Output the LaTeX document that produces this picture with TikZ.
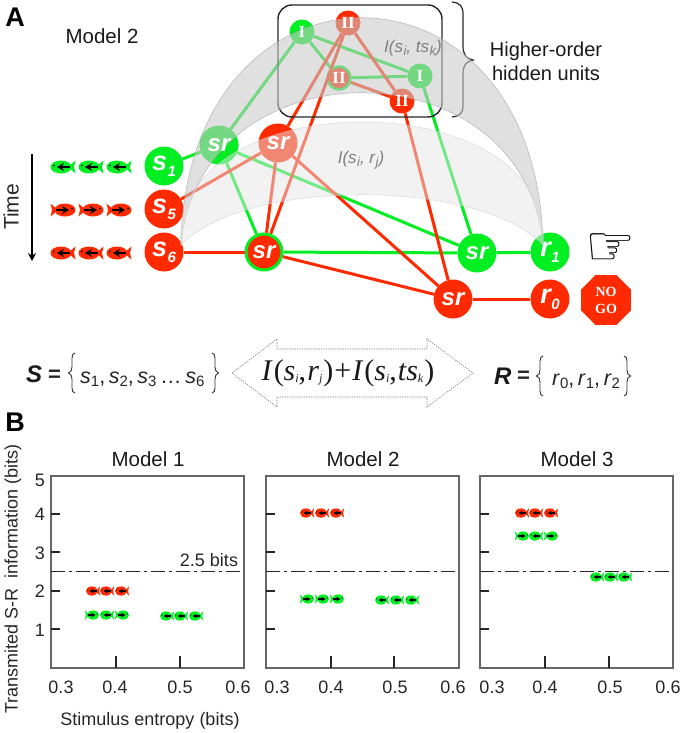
\documentclass[tikz,border=0pt]{standalone}
\usepackage{fontspec}
\setmainfont{Liberation Sans}
\newfontfamily\serifface{Liberation Serif}
\newfontfamily\symface{DejaVu Sans}
\usetikzlibrary{arrows.meta,shapes.geometric}
\definecolor{gr}{HTML}{00EE22}
\definecolor{rd}{HTML}{FF2A00}
\newcommand{\fsz}[1]{\fontsize{#1}{#1}\selectfont}
\newcommand{\bigsub}[2]{\textbf{\textit{\fsz{27}#1\kern0.5pt\raisebox{-6pt}{\fsz{15}#2}}}}
\newcommand{\smsub}[2]{#1\kern0.5pt\raisebox{-3.5pt}{\fsz{13}#2}}
\newcommand{\setsub}[2]{\textit{#1}\raisebox{-3pt}{\fsz{15}#2}}
\newcommand{\eqsub}[2]{\textit{#1}\raisebox{-2pt}{\fsz{12}\textit{#2}}}
\newcommand{\fishmark}[5]{%
 \begin{scope}[shift={(#1,#2)},xscale=#4*#5,yscale=#5*(1.6-0.6*#5)]
  \fill[#3] (-2,0) ellipse [x radius=10.5,y radius=6.5];
  \fill[#3] (5,0) -- (12.5,-6.5) -- (11,0) -- (12.5,6.5) -- cycle;
  \fill[black] (-9.2,-1.5) circle [radius=1];
  \draw[black,line width=#5*2.4pt,-{Stealth[length=#5*7pt,width=#5*8pt]}] (7,0) -- (-6,0);
 \end{scope}}
\tikzset{
 unit/.style={circle,inner sep=0pt,minimum size=39pt,text=white,font=\bfseries\itshape\fsz{24}},
 hid/.style={circle,inner sep=0pt,minimum size=25pt},
 hidlab/.style={text=white,inner sep=0pt,font=\serifface\bfseries\fsz{17}},
 gline/.style={gr,line width=3pt},
 rline/.style={rd,line width=3pt},
 axlab/.style={font=\fsz{18},text=black!85,inner sep=0pt},
 title/.style={font=\fsz{20.5},text=black!90,inner sep=0pt},
 frameln/.style={draw=black!60,line width=1.2pt},
 tickln/.style={draw=black!85,line width=1.2pt},
 bitln/.style={black!85,line width=1.5pt,dash pattern=on 14pt off 4pt on 3pt off 4pt},
 grayinfo/.style={text=black!50,font=\itshape\fsz{17},inner sep=0pt},
 eqtxt/.style={inner sep=0pt,font=\fsz{21.5},text=black!85},
}
\begin{document}
\begin{tikzpicture}[x=1pt,y=-1pt]
\useasboundingbox (0,0) rectangle (685,733);
% panel letters and captions
\node[font=\bfseries\fsz{27},inner sep=0pt] (letA) at (15,17) {A};
\node[font=\bfseries\fsz{27},inner sep=0pt] (letB) at (15,422) {B};
\node[title] (m2top) at (102,36) {Model 2};
\node[font=\fsz{21},rotate=90,inner sep=0pt,text=black!85] (time) at (11,207) {Time};
\coordinate (ta) at (32,154); \coordinate (tb) at (32,261);
\draw[line width=1.3pt,-{Stealth[length=8pt,width=8pt]}] (ta) -- (tb);
% fish
\foreach \x in {63,91,119}{\fishmark{\x}{167}{gr}{1}{1}\fishmark{\x}{253}{rd}{1}{1}}
\foreach \x in {63,91,119}{\fishmark{\x}{210}{rd}{-1}{1}}
% nodes
\node[unit,fill=gr] (s1) at (164,166) {\bigsub{s}{1}};
\node[unit,fill=rd] (s5) at (164,209) {\bigsub{s}{5}};
\node[unit,fill=rd] (s6) at (164,252) {\bigsub{s}{6}};
\node[unit,fill=gr] (srA) at (219,145) {};
\node[unit,fill=rd] (srB) at (278,143) {};
\node[unit,fill=rd,draw=gr,line width=3pt,minimum size=36pt] (srC) at (264,252) {sr};
\node[unit,fill=gr] (srD) at (477,253) {sr};
\node[unit,fill=rd] (srE) at (453,299) {sr};
\node[unit,fill=gr] (r1) at (550,252) {\bigsub{r}{1}};
\node[unit,fill=rd] (r0) at (550,299) {\bigsub{r}{0}};
\node[hid,fill=gr] (hA) at (302,32) {};
\node[hid,fill=rd] (hB) at (348,23) {};
\node[hid,fill=rd,draw=gr,line width=2.5pt,minimum size=23pt] (hC) at (339,78) {};
\node[hid,fill=gr] (hD) at (420,76) {};
\node[hid,fill=rd] (hE) at (402,101) {};
% connectors
\draw[gline] (s1) -- (srA);
\draw[gline] (srA) -- (srC);
\draw[gline] (srA) -- (srD);
\draw[gline] (hA) -- (srA);
\draw[gline] (hA) -- (hC);
\draw[gline] (hA) -- (hD);
\draw[gline] (hC) -- (hD);
\draw[gline] (hD) -- (srD);
\draw[gline] (srC) -- (srD);
\draw[gline] (srD) -- (r1);
\draw[rline] (s5) -- (srB);
\draw[rline] (s6) -- (srC);
\draw[rline] (srB) -- (srC);
\draw[rline] (srB) -- (srE);
\draw[rline] (hB) -- (srB);
\draw[rline] (hB) -- (srC);
\draw[rline] (hB) -- (hE);
\draw[rline] (hC) -- (hE);
\draw[rline] (hE) -- (srE);
\draw[rline] (srC) -- (srE);
\draw[rline] (srE) -- (r0);
% hidden box and brace
\draw[black!85,line width=1.4pt,rounded corners=14pt] (278,5) rectangle (442,117);
\draw[black!85,line width=1.2pt] (452,2) .. controls (460,3) and (463,6) .. (463,14) -- (463,46) .. controls (463,54) and (466,59) .. (473,60) .. controls (466,61) and (463,66) .. (463,74) -- (463,106) .. controls (463,113) and (460,116) .. (452,117);
% arches
\fill[black!21,fill opacity=.58,draw=black!35,draw opacity=.7,line width=.6pt] (181,245) .. controls (186,-58) and (538,-58) .. (543,245) .. controls (524,42) and (200,42) .. (181,245) -- cycle;
\fill[black!10,fill opacity=.5,draw=black!20,draw opacity=.6,line width=.6pt] (181,245) .. controls (170,81) and (554,81) .. (543,245) .. controls (479,178) and (245,178) .. (181,245) -- cycle;
% labels over the arches
\node[unit,fill=none] (lA) at (srA) {sr};
\node[unit,fill=none] (lB) at (srB) {sr};
\node[hidlab] (tA) at (hA) {I};
\node[hidlab] (tB) at (hB) {II};
\node[hidlab] (tC) at (hC) {II};
\node[hidlab] (tD) at (hD) {I};
\node[hidlab] (tE) at (hE) {II};
\node[grayinfo] (infoA) at (413,48) {I(\smsub{s}{i},\ \smsub{ts}{k})};
\node[grayinfo] (infoB) at (361,160) {I(\smsub{s}{i},\ \smsub{r}{j})};
\node[align=center,font=\fsz{20},inner sep=0pt,text=black!90] (hou) at (546,61) {Higher-order\\[4pt]hidden units};
% response icons
\node[font=\symface\fsz{56},inner sep=0pt] (hand) at (611,250) {☞};
\node[regular polygon,regular polygon sides=8,fill=rd,minimum size=54pt,inner sep=0pt,text=white,align=center,font=\serifface\bfseries\fsz{14}] (nogo) at (606,300) {NO\\[3pt]GO};
% formula row
\node[inner sep=0pt,anchor=base west,font=\bfseries\itshape\fsz{24},text=black!90] (Sb) at (26,382) {S};
\node[inner sep=0pt,anchor=base west,font=\bfseries\fsz{22},text=black!85] (Se) at (48,381) {=};
\node[eqtxt,anchor=base west] (Sset) at (80,383) {\setsub{s}{1},\,\setsub{s}{2},\,\setsub{s}{3}\,…\,\setsub{s}{6}};
\node[inner sep=0pt,anchor=base west,font=\bfseries\itshape\fsz{24},text=black!90] (Rb) at (494,384) {R};
\node[inner sep=0pt,anchor=base west,font=\bfseries\fsz{22},text=black!85] (Re) at (517,382) {=};
\node[eqtxt,anchor=base west] (Rset) at (552,385) {\setsub{r}{0},\,\setsub{r}{1},\,\setsub{r}{2}};
\foreach \bx/\by/\bs in {72/373/-1,215/373/1,540/376/-1,627/376/1}{
 \begin{scope}[shift={(\bx,\by)},xscale=\bs]
 \draw[black!80,line width=.9pt] (-3,-20) .. controls (-1,-19.5) and (0,-18) .. (0,-15) -- (0,-6) .. controls (0,-3) and (1,-1) .. (3.5,0) .. controls (1,1) and (0,3) .. (0,6) -- (0,15) .. controls (0,18) and (-1,19.5) .. (-3,20);
 \end{scope}
}
\draw[black!55,line width=.6pt,dash pattern=on 1.2pt off 1.2pt] (232,373) -- (277,339) -- (277,349) -- (427,349) -- (427,339) -- (473,373) -- (427,407) -- (427,397) -- (277,397) -- (277,407) -- cycle;
\node[inner sep=0pt,font=\serifface\fsz{30},text=black!90] (eq) at (348,373) {\textit{I}\kern1pt(\eqsub{s}{i},\kern1pt\eqsub{r}{j}\kern1pt)\kern1pt+\kern1pt\textit{I}\kern1pt(\eqsub{s}{i},\kern1pt\eqsub{ts}{k}\kern1pt)};
% panel B
\foreach \px/\nm/\xa/\xb/\la/\lb/\lc/\ld in {51/1/116/180/61/115/180/238,266/2/331/394/277/331/395/453,480/3/545/609/492/545/610/668}{
 \node[title] (t\nm) at (\px+97,459) {Model \nm};
 \draw[frameln] (\px,476) rectangle (\px+193,668);
 \foreach \yy in {514,552,591,629}{\draw[tickln] (\px,\yy) -- (\px+9,\yy);}
 \draw[tickln] (\xa,668) -- (\xa,656);
 \draw[tickln] (\xb,668) -- (\xb,656);
 \node[axlab] (xa\nm) at (\la,687) {0.3};
 \node[axlab] (xb\nm) at (\lb,687) {0.4};
 \node[axlab] (xc\nm) at (\lc,687) {0.5};
 \node[axlab] (xd\nm) at (\ld,687) {0.6};
 \draw[bitln] (\px,571.5) -- (\px+193,571.5);
}
\foreach \v/\yy in {5/480,4/514,3/553,2/591,1/630}{\node[axlab] (yl\v) at (40,\yy) {\v};}
\node[axlab] (bits) at (209,560) {2.5 bits};
\node[axlab,rotate=90] (ylab) at (13,579) {Transmited S-R\ \ information (bits)};
\node[axlab] (xlab) at (150,721) {Stimulus entropy (bits)};
% small fish, panel 1
\foreach \x in {93,107,122}{\fishmark{\x}{591}{rd}{1}{.56}}
\fishmark{92}{615}{gr}{-1}{.56}\fishmark{107}{615}{gr}{1}{.56}\fishmark{122}{615}{gr}{-1}{.56}
\foreach \x in {167,181,196}{\fishmark{\x}{616}{gr}{1}{.56}}
% panel 2
\foreach \x in {307,322,337}{\fishmark{\x}{513}{rd}{1}{.56}\fishmark{\x}{599}{gr}{-1}{.56}}
\foreach \x in {382,397,412}{\fishmark{\x}{600}{gr}{1}{.56}}
% panel 3
\foreach \x in {522,536,551}{\fishmark{\x}{513}{rd}{1}{.56}}
\fishmark{522}{536}{gr}{-1}{.56}\fishmark{536}{536}{gr}{1}{.56}\fishmark{551}{536}{gr}{-1}{.56}
\foreach \x in {597,611,625}{\fishmark{\x}{577}{gr}{1}{.56}}
\end{tikzpicture}
\end{document}
